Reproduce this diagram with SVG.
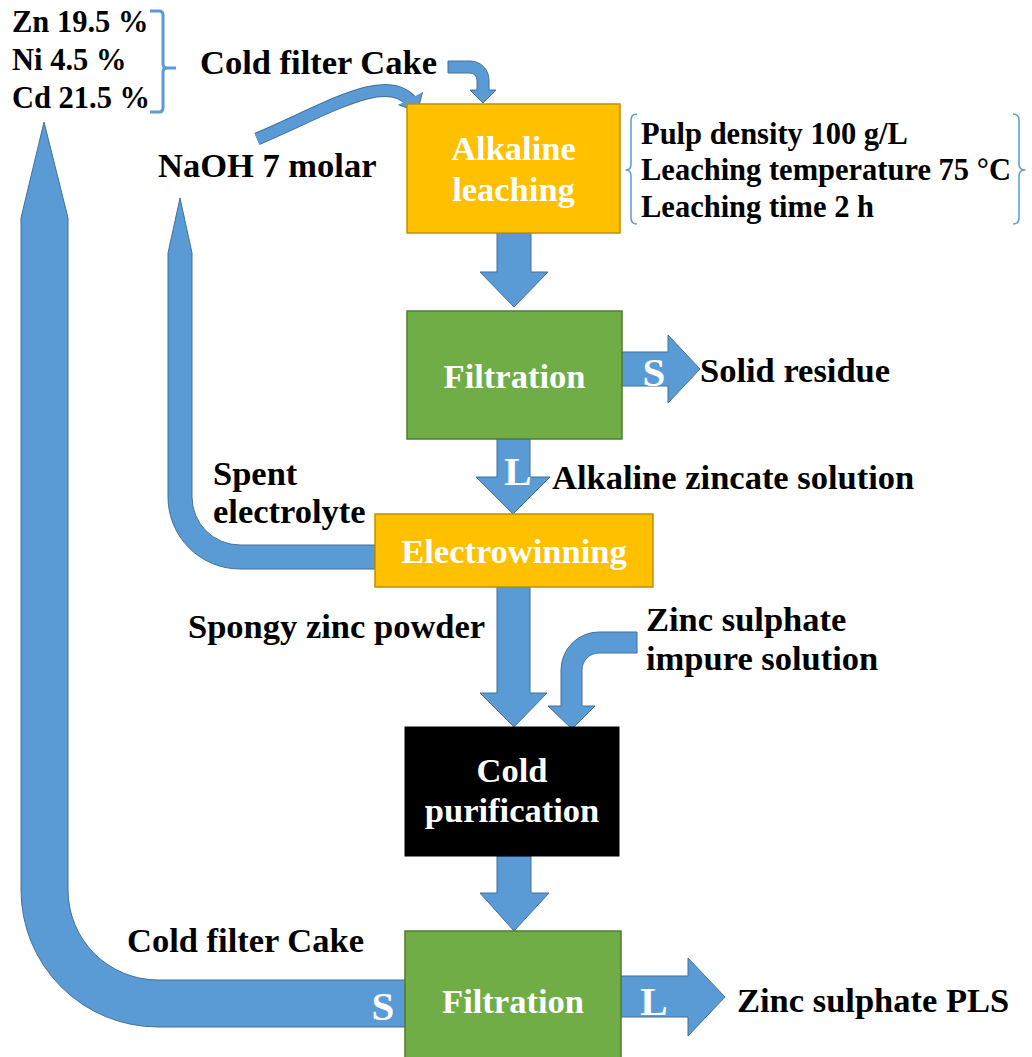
<svg xmlns="http://www.w3.org/2000/svg" width="1032" height="1057" viewBox="0 0 1032 1057">
  <style>
    text { font-family: "Liberation Serif", "Times New Roman", serif; font-weight: bold; }
    .lbl { font-size: 34.5px; fill: #000; }
    .sm { font-size: 30.5px; fill: #000; }
    .box-t { font-size: 34.5px; fill: #fff; text-anchor: middle; }
    .sl { font-size: 41px; fill: #fff; text-anchor: middle; }
    .arrow { fill: #5B9BD5; stroke: #41719C; stroke-width: 1; }
    .head-fill { fill: #5B9BD5; stroke: none; }
    .edge { fill: none; stroke: #41719C; stroke-width: 1; }
    .brace { fill: none; stroke: #5B9BD5; stroke-linejoin: round; }
    .orange { fill: #FFC000; stroke: #BF9000; stroke-width: 1.5; }
    .green { fill: #70AD47; stroke: #507E32; stroke-width: 1.5; }
    .black { fill: #000; stroke: #000; stroke-width: 1; }
  </style>
  <rect width="1032" height="1057" fill="#fff"/>

  <!-- flow arrows -->
  <g id="connectors">
    <!-- cold filter cake feed into leaching -->
    <path class="arrow" d="M448,61 H470 A19,19 0 0 1 489,80 V90 H496 L483,103 L470,90 H477 V80 A7,7 0 0 0 470,73 H448 Z"/>
    <!-- NaOH feed (curved) -->
    <path d="M257,139 C330,108 385,72 411,101" fill="none" stroke="#41719C" stroke-width="13"/>
    <path d="M257,139 C330,108 385,72 411,101" fill="none" stroke="#5B9BD5" stroke-width="11"/>
    <polygon class="head-fill" points="398.5,104.7 422.5,92.3 417.4,111.9"/>
    <polyline class="edge" points="398.5,104.7 417.4,111.9 422.5,92.3"/>
    <!-- leaching to filtration -->
    <polygon class="arrow" points="497,233 531,233 531,272 548,272 514,307 480,272 497,272"/>
    <!-- solid residue out -->
    <polygon class="arrow" points="622,352 668,352 668,335 700,369 668,403 668,386 622,386"/>
    <!-- liquor to electrowinning -->
    <polygon class="arrow" points="497,439 530,439 530,477 550,477 513,514 476,477 497,477"/>
    <!-- spent electrolyte recycle -->
    <path class="arrow" d="M375,545 H240 A48,48 0 0 1 192,497 V253 L180,198 L168,253 V497 A72,72 0 0 0 240,569 H375 Z"/>
    <!-- spongy zinc powder to cold purification -->
    <polygon class="arrow" points="497,587 530,587 530,693 547,693 514,727 480,693 497,693"/>
    <!-- zinc sulphate impure solution -->
    <path class="arrow" d="M637,632 H599 A38,38 0 0 0 561,670 V706 H548 L572,729 L595,706 H582 V670 A17,17 0 0 1 599,653 H637 Z"/>
    <!-- cold purification to filtration -->
    <polygon class="arrow" points="497,856 531,856 531,893 549,893 514,931 480,893 497,893"/>
    <!-- cold filter cake recycle -->
    <path class="arrow" d="M405,980 H158 A90,90 0 0 1 68,890 V218 L44,122 L21,218 V890 A137,137 0 0 0 158,1027 H405 Z"/>
    <!-- PLS out -->
    <polygon class="arrow" points="621,976 688,976 688,958 725,997 688,1036 688,1017 621,1017"/>
  </g>

  <g id="node-alkaline-leaching">
    <rect class="orange" x="407" y="104" width="213" height="129"/>
    <text class="box-t" x="513.5" y="160">Alkaline</text>
    <text class="box-t" x="513.5" y="201">leaching</text>
  </g>

  <g id="node-filtration-1">
    <rect class="green" x="407" y="311" width="215" height="128"/>
    <text class="box-t" x="514.5" y="388">Filtration</text>
  </g>

  <g id="node-electrowinning">
    <rect class="orange" x="375" y="514" width="278" height="73"/>
    <text class="box-t" x="514" y="563">Electrowinning</text>
  </g>

  <g id="node-cold-purification">
    <rect class="black" x="405" y="727" width="214" height="129"/>
    <text class="box-t" x="512" y="782">Cold</text>
    <text class="box-t" x="512" y="822">purification</text>
  </g>

  <g id="node-filtration-2">
    <rect class="green" x="405" y="931" width="216" height="130"/>
    <text class="box-t" x="513" y="1013">Filtration</text>
  </g>

  <!-- phase letters on arrows -->
  <g id="phase-labels">
    <text class="sl" x="654" y="386">S</text>
    <text class="sl" x="518" y="485">L</text>
    <text class="sl" x="383" y="1020">S</text>
    <text class="sl" x="654" y="1015">L</text>
  </g>

  <!-- feed composition -->
  <g id="composition">
    <text class="sm" x="12" y="32">Zn 19.5 %</text>
    <text class="sm" x="12" y="70">Ni 4.5 %</text>
    <text class="sm" x="12" y="108">Cd 21.5 %</text>
    <path class="brace" stroke-width="3" d="M150,11 H159 Q163,11 163,15 V64 Q163,68 167,68 H176 M167,68 Q163,68 163,72 V108 Q163,112 159,112 H150"/>
  </g>

  <!-- leaching conditions -->
  <g id="conditions">
    <path class="brace" stroke-width="1.5" d="M637,114 Q631,114 631,120 V164 Q631,170 626,170 Q631,170 631,176 V218 Q631,224 637,224"/>
    <text class="sm" x="641" y="144">Pulp density 100 g/L</text>
    <text class="sm" x="641" y="180">Leaching temperature 75 °C</text>
    <text class="sm" x="641" y="217">Leaching time 2 h</text>
    <path class="brace" stroke-width="1.5" d="M1013,114 Q1019,114 1019,120 V164 Q1019,170 1025,170 Q1019,170 1019,176 V218 Q1019,224 1013,224"/>
  </g>

  <!-- stream labels -->
  <g id="stream-labels">
    <text class="lbl" x="200" y="74">Cold filter Cake</text>
    <text class="lbl" x="158" y="177">NaOH 7 molar</text>
    <text class="lbl" x="700" y="382">Solid residue</text>
    <text class="lbl" x="552" y="489">Alkaline zincate solution</text>
    <text class="lbl" x="213" y="485">Spent</text>
    <text class="lbl" x="213" y="523">electrolyte</text>
    <text class="lbl" x="188" y="638">Spongy zinc powder</text>
    <text class="lbl" x="646" y="631">Zinc sulphate</text>
    <text class="lbl" x="646" y="670">impure solution</text>
    <text class="lbl" x="127" y="952">Cold filter Cake</text>
    <text class="lbl" x="737" y="1012">Zinc sulphate PLS</text>
  </g>
</svg>
